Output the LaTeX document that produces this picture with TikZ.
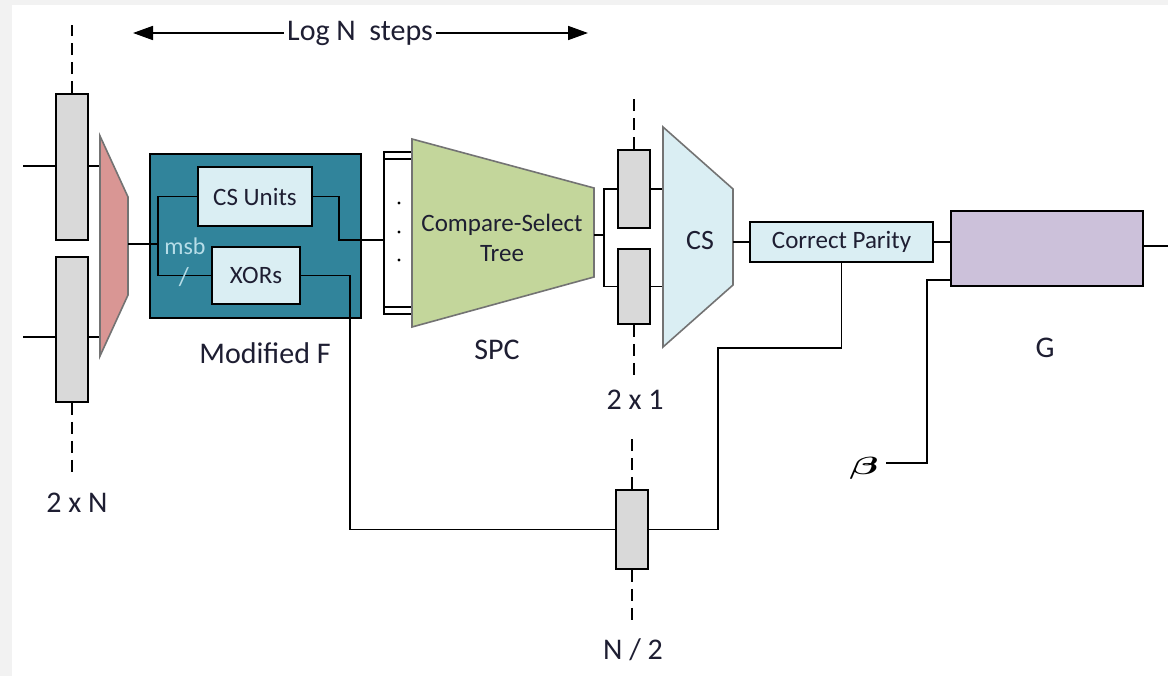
\documentclass[tikz,border=0pt]{standalone}
\usepackage{amsmath}
\usepackage{fontspec}
\setmainfont{Carlito}
\usetikzlibrary{arrows.meta}
\definecolor{tealF}{RGB}{49,132,155}
\definecolor{lblue}{RGB}{218,238,243}
\definecolor{regg}{RGB}{217,217,217}
\definecolor{muxp}{RGB}{217,150,148}
\definecolor{spcg}{RGB}{195,214,155}
\definecolor{gpur}{RGB}{204,193,218}
\definecolor{msbc}{RGB}{183,221,232}
\definecolor{txt}{RGB}{30,30,50}
\tikzset{
  wire/.style={line width=1.7pt, black},
  regbox/.style={draw=black, line width=1.8pt, fill=regg, minimum width=32pt, inner sep=0pt},
  bluebox/.style={draw=black, line width=1.8pt, fill=lblue, inner sep=0pt, text=txt, font=\fontsize{25}{30}\selectfont},
  shapeborder/.style={draw=black!55, line width=1.6pt},
  lbl/.style={text=txt, font=\fontsize{30}{36}\selectfont, inner sep=0pt},
  dsh/.style={line width=1.7pt, dash pattern=on 12pt off 7pt},
}
\begin{document}
\begin{tikzpicture}[x=1pt,y=-1pt]
\useasboundingbox (0,0) rectangle (1168,676);
\fill[black!5] (0,0) rectangle (1168,676);
\fill[white] (12,5) rectangle (1168,676);

% Log N steps arrow
\node[lbl, fill=white, inner sep=3pt] (logn) at (360,33) {Log N\ \ steps};
\coordinate (al) at (133,33);
\coordinate (ar) at (588,33);
\draw[wire, -{Triangle[length=20pt,width=14pt]}] (logn.west) -- (al);
\draw[wire, -{Triangle[length=20pt,width=14pt]}] (logn.east) -- (ar);

% left registers 2 x N
\node[regbox, minimum height=146pt] (r1) at (72,167) {};
\node[regbox, minimum height=145pt] (r2) at (72,329.5) {};
\coordinate (in1) at (23,166);
\coordinate (in2) at (23,337);
\coordinate (muxL) at (100,0);
\draw[wire] (in1) -- (in1 -| r1.west);
\draw[wire] (in1 -| r1.east) -- (in1 -| muxL);
\draw[wire] (in2) -- (in2 -| r2.west);
\draw[wire] (in2 -| r2.east) -- (in2 -| muxL);
\draw[dsh] (r1.north) -- ++(0,-68);
\draw[dsh] (r2.south) -- ++(0,70);
\node[lbl] (l2xN) at (77,503) {2 x N};

% mux
\draw[shapeborder, fill=muxp] (100,136) -- (128,197) -- (128,295) -- (100,356) -- cycle;
\coordinate (muxout) at (128,244);

% Modified F
\node[draw=black, line width=1.8pt, fill=tealF, minimum width=211pt, minimum height=164pt] (mf) at (255.5,236) {};
\node[bluebox, minimum width=114pt, minimum height=59pt] (csu) at (255,196.5) {CS Units};
\node[bluebox, minimum width=88pt, minimum height=57pt] (xor) at (256,275.5) {XORs};
\coordinate (jb) at (158,276);
\draw[wire] (muxout) -- (muxout -| jb);
\draw[wire] (csu.west) -| (jb);
\draw[wire] (xor.west) -- (xor.west -| jb);
\node[text=msbc, font=\fontsize{24}{28}\selectfont, inner sep=0pt] (msb) at (185,246) {msb};
\node[text=msbc, font=\fontsize{26}{28}\selectfont, inner sep=0pt] (sl) at (184,277) {/};
\node[lbl] (lmf) at (265,353) {Modified F};

% SPC bracket
\node[draw=black, line width=1.6pt, fill=white, minimum width=28pt, minimum height=162pt, inner sep=0pt] (br) at (398,233) {};
\draw[wire] (br.north west) ++(0,8) -- ++(28,0);
\draw[wire] (br.south west) ++(0,-8) -- ++(28,0);
\fill (399,203) circle (1.6pt);
\fill (399,232) circle (1.6pt);
\fill (399,260) circle (1.6pt);
\coordinate (spcin) at (384,240);
\draw[wire] (csu.east) -- ++(26,0) |- (spcin);

% SPC trapezoid
\draw[shapeborder, fill=spcg] (412,139) -- (594,188) -- (594,277) -- (412,327) -- cycle;
\node[text=txt, font=\fontsize{25}{30}\selectfont, align=center, inner sep=0pt] (spct) at (502,238) {Compare-Select\\Tree};
\node[lbl] (lspc) at (497,350) {SPC};
\coordinate (spco) at (594,235);
\coordinate (fk) at (604,235);

% 2 x 1 registers
\node[regbox, minimum height=78pt] (b1) at (634,189) {};
\node[regbox, minimum height=75pt] (b2) at (634,286.5) {};
\draw[wire] (spco) -- (fk);
\draw[wire] (b1.west) -| (fk) |- (b2.west);
\draw[dsh] (b1.north) -- ++(0,-53);
\draw[dsh] (b2.south) -- ++(0,52);
\node[lbl] (l2x1) at (635,400) {2 x 1};

% CS trapezoid
\coordinate (csL) at (663,0);
\draw[wire] (b1.east) -- (b1.east -| csL);
\draw[wire] (b2.east) -- (b2.east -| csL);
\draw[shapeborder, fill=lblue] (663,127) -- (733,189) -- (733,285) -- (663,347) -- cycle;
\node[text=txt, font=\fontsize{28}{32}\selectfont, inner sep=0pt] (cst) at (700,241) {CS};
\coordinate (cso) at (733,242);

% Correct Parity
\node[bluebox, minimum width=183pt, minimum height=40pt] (cp) at (841.5,242) {Correct Parity};
\draw[wire] (cso) -- (cp.west);

% G
\node[draw=black, line width=1.8pt, fill=gpur, minimum width=192pt, minimum height=75pt, inner sep=0pt] (g) at (1047,248.5) {};
\draw[wire] (cp.east) -- (cp.east -| g.west);
\coordinate (gout) at (1168,246);
\draw[wire] (gout -| g.east) -- (gout);
\node[lbl] (lg) at (1045,348) {G};

% beta
\node[inner sep=0pt] (beta) at (864,468) {\fontsize{40}{44}\selectfont\scalebox{1.7}[1]{$\boldsymbol{\beta}$}};
\coordinate (bA) at (886,463);
\coordinate (bk) at (927,280);
\draw[wire] (bA) -| (bk) -- (bk -| g.west);

% N/2 register
\node[regbox, minimum height=79pt] (n2) at (632,529.5) {};
\coordinate (k1) at (718,348);
\draw[wire] (cp.south) |- (k1) |- (n2.east);
\draw[wire] (xor.east) -- ++(49,0) |- (n2.west);
\draw[dsh] (n2.north) -- ++(0,-52);
\draw[dsh] (n2.south) -- ++(0,53);
\node[lbl] (ln2) at (633,650) {N / 2};
\end{tikzpicture}
\end{document}
